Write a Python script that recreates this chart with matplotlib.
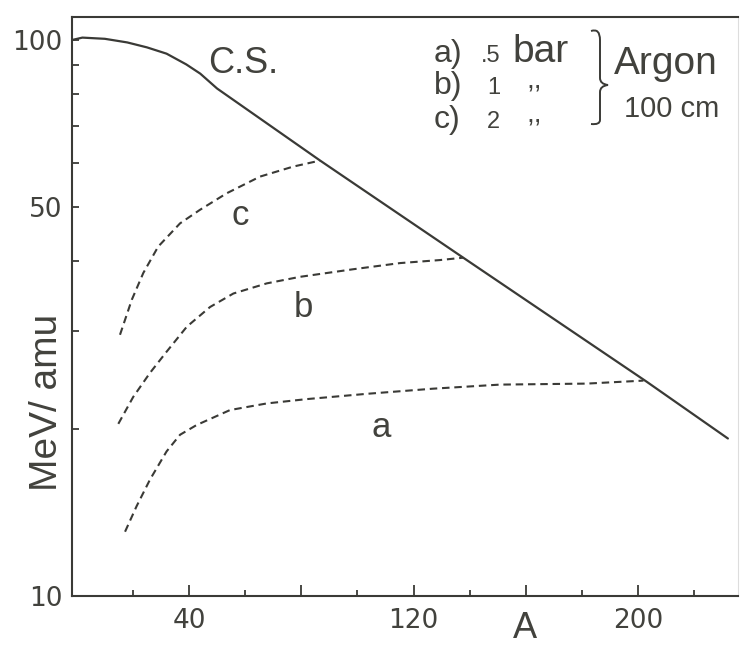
import matplotlib
matplotlib.use("Agg")
import matplotlib.pyplot as plt
from matplotlib.path import Path
from matplotlib.patches import PathPatch

# C.S. curve and the three argon-pressure curves (A, MeV/amu)
A_cs = [-1.7, 2, 10, 18, 25, 32, 39, 44, 50, 86.7, 138, 203, 232]
E_cs = [100, 101, 100.5, 99, 97, 94.5, 90.4, 87.0, 81.8, 60.7, 40.5, 24.3, 19.2]

A_c = [15.4, 19.6, 23.7, 29.0, 36.8, 43.9, 53.4, 65.3, 77.1, 86.7]
E_c = [29.5, 34.1, 38.1, 42.5, 46.8, 49.5, 53.0, 56.8, 59.2, 60.7]

A_b = [14.8, 20.1, 26.1, 32.0, 39.2, 47.5, 55.8, 67.7, 79.5, 98.5, 115.2, 129.4, 137.7]
E_b = [20.4, 22.8, 25.2, 27.5, 30.5, 33.1, 35.0, 36.5, 37.5, 38.7, 39.7, 40.2, 40.6]

A_a = [17.2, 21.3, 26.1, 32.0, 36.8, 42.7, 54.6, 67.7, 81.9, 103.3, 127.0, 150.8, 181.7, 201.9]
E_a = [13.05, 14.5, 16.2, 18.2, 19.5, 20.3, 21.6, 22.2, 22.6, 23.1, 23.6, 24.0, 24.1, 24.4]

x_major = [40, 80, 120, 160, 200]
x_major_labels = ['40', '', '120', '', '200']
x_minor = [20, 60, 100, 140, 180, 220]
y_ticks = [10, 20, 30, 40, 50, 60, 70, 80, 90, 100]
y_labels = ['10', '', '', '', '50', '', '', '', '', '100']

ink = '#3a3a36'
txt = '#42423d'
W, H = 741, 648


def fxy(px, py):
    # pixel position in the picture -> figure fraction
    return px / W, 1 - py / H


fig = plt.figure(figsize=(7.41, 6.48), dpi=100)
ax = fig.add_axes([72 / W, 52 / H, 666 / W, 579 / H])
ax.set_yscale('log')
ax.set_xlim(-1.7, 235.6)
ax.set_ylim(10, 110)

ax.plot(A_cs, E_cs, color=ink, lw=1.6, solid_capstyle='round', solid_joinstyle='round')
dash = (0, (3.6, 2.3))
for xs, ys in [(A_c, E_c), (A_b, E_b), (A_a, E_a)]:
    ax.plot(xs, ys, color=ink, lw=1.5, linestyle=dash)

ax.set_xticks(x_major, x_major_labels, fontfamily='DejaVu Sans', fontsize=19, color=txt)
ax.set_xticks(x_minor, minor=True)
ax.set_yticks(y_ticks, y_labels, fontfamily='DejaVu Sans', fontsize=19, color=txt)
ax.yaxis.set_minor_locator(matplotlib.ticker.NullLocator())
ax.tick_params(axis='x', which='major', direction='in', length=8, width=1.3, pad=9, color=ink)
ax.tick_params(axis='x', which='minor', direction='in', length=4, width=1.3, color=ink)
ax.tick_params(axis='y', which='major', direction='in', length=5, width=1.3, pad=7, color=ink)

for s in ['left', 'bottom', 'top']:
    ax.spines[s].set_linewidth(1.5)
    ax.spines[s].set_color(ink)
ax.spines['right'].set_color('#dddddd')
ax.spines['right'].set_linewidth(0.8)

font = 'Liberation Sans'
ax.text(59.2, 90.9, 'C.S.', fontsize=26, family=font, color=txt, ha='center', va='center')
ax.text(58.2, 48.4, 'c', fontsize=25, family=font, color=txt, ha='center', va='center')
ax.text(80.6, 33.0, 'b', fontsize=25, family=font, color=txt, ha='center', va='center')
ax.text(108.4, 20.1, 'a', fontsize=25, family=font, color=txt, ha='center', va='center')

fig.text(*fxy(47, 402), 'MeV/ amu', fontsize=28, family=font, color=txt,
         rotation=90, ha='center', va='center')
fig.text(*fxy(525, 628), 'A', fontsize=26, family=font, color=txt, ha='center', va='center')

# key in the upper right
rows = [('a)', '.5', 'bar', 62), ('b)', '1', ',,', 94), ('c)', '2', ',,', 128)]
for lab, val, unit, base in rows:
    fig.text(*fxy(434, base), lab, fontsize=23, family=font, color=txt, va='baseline')
    fig.text(*fxy(500, base), val, fontsize=17, family=font, color=txt, va='baseline', ha='right')
    if unit == 'bar':
        fig.text(*fxy(512, base), unit, fontsize=28, family=font, color=txt, va='baseline')
    else:
        fig.text(*fxy(526, base - 6), unit, fontsize=20, family=font, color=txt, va='baseline')
fig.text(*fxy(614, 74), 'Argon', fontsize=28, family=font, color=txt, va='baseline')
fig.text(*fxy(624, 117), '100 cm', fontsize=21, family=font, color=txt, va='baseline')

# curly brace
bp = [(591, 31), (600, 28), (600, 40), (600, 60), (600, 78), (600, 84), (608, 85),
      (600, 86), (600, 92), (600, 110), (600, 120), (600, 125), (591, 124)]
codes = [Path.MOVETO, Path.CURVE3, Path.CURVE3, Path.LINETO, Path.LINETO, Path.CURVE3, Path.CURVE3,
         Path.CURVE3, Path.CURVE3, Path.LINETO, Path.LINETO, Path.CURVE3, Path.CURVE3]
brace = Path([fxy(x, y) for x, y in bp], codes)
fig.patches.append(PathPatch(brace, transform=fig.transFigure, fill=False, lw=1.4, edgecolor=ink))

fig.savefig('out.png', dpi=100)
